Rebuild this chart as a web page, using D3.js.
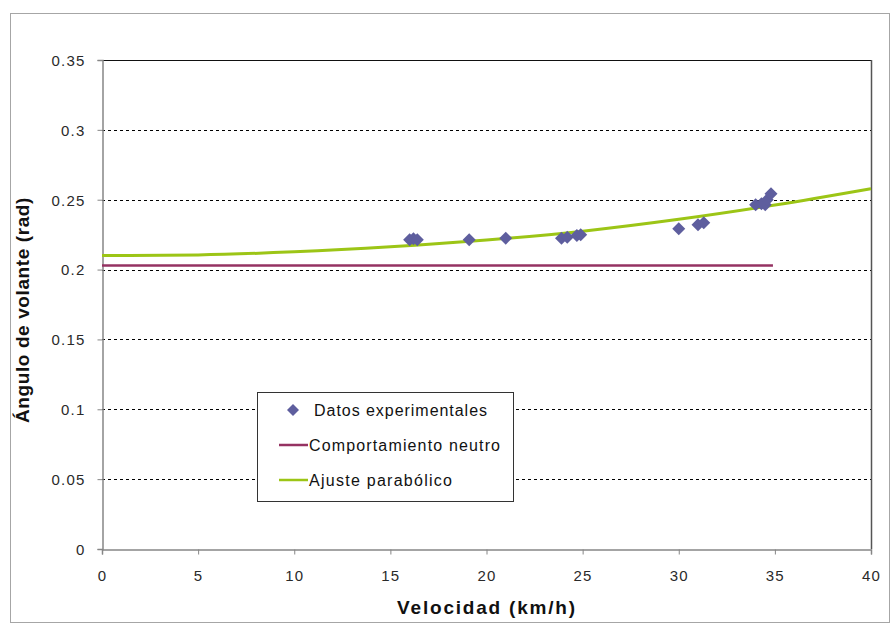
<!DOCTYPE html>
<html>
<head>
<meta charset="utf-8">
<script src="https://cdn.jsdelivr.net/npm/d3@7/dist/d3.min.js"></script>
<style>
  html, body { margin: 0; padding: 0; background: #fff; }
  svg { display: block; font-family: "Liberation Sans", Arial, sans-serif; }
</style>
</head>
<body>
<svg id="chart" width="893" height="626"></svg>
<script>
// ---- data ----
const expSpeed = [16.0, 16.2, 16.4, 19.1, 21.0, 23.9, 24.2, 24.7, 24.9, 30.0, 31.0, 31.3, 34.0, 34.3, 34.5, 34.6, 34.8];
const expAngle = [0.2214, 0.2221, 0.2214, 0.2214, 0.2225, 0.2225, 0.2232, 0.2243, 0.2250, 0.2293, 0.2321, 0.2336, 0.2464, 0.2471, 0.2464, 0.2500, 0.2543];

const neutralSpeed = [0, 34.9];
const neutralAngle = [0.2030, 0.2030];

const fitSpeed = [0, 5, 10, 15, 20, 25, 30, 35, 40];
const fitAngle = [0.2100, 0.2105, 0.2127, 0.2163, 0.2212, 0.2275, 0.2360, 0.2462, 0.2579];

const xTicks = [0, 5, 10, 15, 20, 25, 30, 35, 40];
const yTicks = [0, 0.05, 0.1, 0.15, 0.2, 0.25, 0.3, 0.35];

const legendLabels = ["Datos experimentales", "Comportamiento neutro", "Ajuste parabólico"];
const xTitle = "Velocidad (km/h)";
const yTitle = "Ángulo de volante (rad)";

// ---- layout ----
const svg = d3.select("#chart");
const plot = { left: 102, top: 60, right: 871, bottom: 549 };
const x = d3.scaleLinear().domain([0, 40]).range([plot.left, plot.right]);
const y = d3.scaleLinear().domain([0, 0.35]).range([plot.bottom, plot.top]);

const colDiamond = "#5E5E9E";
const colNeutral = "#953262";
const colFit = "#9CC516";

// outer chart border
svg.append("rect")
  .attr("x", 10.5).attr("y", 13.5).attr("width", 879).attr("height", 609)
  .attr("fill", "#fff").attr("stroke", "#a6a6a6").attr("stroke-width", 1);

// gridlines (dashed)
svg.append("g").selectAll("line")
  .data(yTicks.filter(t => t > 0 && t < 0.35))
  .join("line")
  .attr("x1", plot.left).attr("x2", plot.right)
  .attr("y1", d => Math.round(y(d)) + 0.5).attr("y2", d => Math.round(y(d)) + 0.5)
  .attr("stroke", "#000").attr("stroke-width", 1).attr("stroke-dasharray", "3,3");

// plot area border top & right
svg.append("line")
  .attr("x1", plot.left).attr("x2", plot.right + 0.5)
  .attr("y1", Math.round(y(0.35)) + 0.5).attr("y2", Math.round(y(0.35)) + 0.5)
  .attr("stroke", "#111").attr("stroke-width", 1);
svg.append("line")
  .attr("x1", plot.right + 0.5).attr("x2", plot.right + 0.5)
  .attr("y1", plot.top).attr("y2", plot.bottom)
  .attr("stroke", "#555").attr("stroke-width", 1.5);

// axes
const fmt = d => String(+d.toFixed(2));
const xAxis = svg.append("g")
  .attr("transform", `translate(0,${plot.bottom + 0.5})`)
  .call(d3.axisBottom(x).tickValues(xTicks).tickSize(5).tickPadding(13).tickFormat(d => d));
const yAxis = svg.append("g")
  .attr("transform", `translate(${plot.left + 0.5},0)`)
  .call(d3.axisLeft(y).tickValues(yTicks).tickSize(5).tickPadding(12).tickFormat(fmt));

[xAxis, yAxis].forEach(a => {
  a.select(".domain").attr("stroke", "#868686").attr("stroke-width", 1.5);
  a.selectAll(".tick line").attr("stroke", "#868686");
  a.selectAll(".tick text")
    .attr("fill", "#2a2a2a")
    .style("font-size", "15px")
    .style("letter-spacing", "1.2px");
});
yAxis.selectAll(".tick text").attr("dy", "0.36em");
xAxis.selectAll(".tick text").attr("dy", "0.9em");

// series: neutral line
const lineGen = d3.line().x(d => x(d[0])).y(d => y(d[1]));
svg.append("path")
  .datum(neutralSpeed.map((v, i) => [v, neutralAngle[i]]))
  .attr("d", lineGen)
  .attr("fill", "none").attr("stroke", colNeutral).attr("stroke-width", 2.5);

// series: parabolic fit
svg.append("path")
  .datum(fitSpeed.map((v, i) => [v, fitAngle[i]]))
  .attr("d", lineGen.curve(d3.curveMonotoneX))
  .attr("fill", "none").attr("stroke", colFit).attr("stroke-width", 3);

// series: experimental points (diamonds)
const diamond = s => `M0,${-s}L${s},0L0,${s}L${-s},0Z`;
svg.append("g").selectAll("path")
  .data(expSpeed.map((v, i) => [v, expAngle[i]]))
  .join("path")
  .attr("transform", d => `translate(${x(d[0])},${y(d[1])})`)
  .attr("d", diamond(6.5))
  .attr("fill", colDiamond);

// legend
const lg = svg.append("g");
lg.append("rect")
  .attr("x", 257.5).attr("y", 392.5).attr("width", 256).attr("height", 109)
  .attr("fill", "#fff").attr("stroke", "#333").attr("stroke-width", 1);
const lgY = [410, 445, 480];
const lgLens = [173, 191, 143];
lg.append("path")
  .attr("transform", `translate(293,${lgY[0]})`)
  .attr("d", diamond(6)).attr("fill", colDiamond);
lg.append("line").attr("x1", 279).attr("x2", 308).attr("y1", lgY[1]).attr("y2", lgY[1])
  .attr("stroke", colNeutral).attr("stroke-width", 2.5);
lg.append("line").attr("x1", 279).attr("x2", 308).attr("y1", lgY[2]).attr("y2", lgY[2])
  .attr("stroke", colFit).attr("stroke-width", 2.5);
lg.selectAll("text.lbl")
  .data(legendLabels)
  .join("text")
  .attr("class", "lbl")
  .attr("x", (d, i) => i === 0 ? 314 : 309)
  .attr("y", (d, i) => lgY[i] + 6)
  .attr("textLength", (d, i) => lgLens[i])
  .attr("lengthAdjust", "spacing")
  .attr("fill", "#111")
  .style("font-size", "16px")
  .text(d => d);

// axis titles
svg.append("text")
  .attr("x", 487).attr("y", 614)
  .attr("text-anchor", "middle")
  .style("font-size", "19px").style("font-weight", "bold")
  .style("letter-spacing", "1.8px")
  .attr("fill", "#111")
  .text(xTitle);
svg.append("text")
  .attr("transform", "translate(29,310) rotate(-90)")
  .attr("text-anchor", "middle")
  .style("font-size", "19px").style("font-weight", "bold")
  .style("letter-spacing", "0.6px")
  .attr("fill", "#111")
  .text(yTitle);
</script>
</body>
</html>
